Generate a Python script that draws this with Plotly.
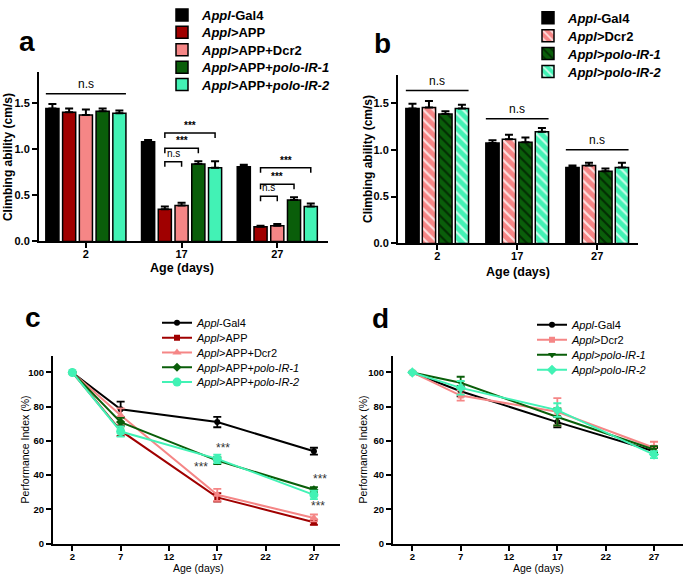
import plotly.graph_objects as go

# ---------------- data ----------------
# Panel a: climbing ability (cm/s)
a_ages = ["2", "17", "27"]
a_names = ["<i>Appl</i>-Gal4", "<i>Appl</i>&gt;APP", "<i>Appl</i>&gt;APP+Dcr2",
           "<i>Appl</i>&gt;APP+<i>polo-IR-1</i>", "<i>Appl</i>&gt;APP+<i>polo-IR-2</i>"]
a_gal4 = [1.44, 1.08, 0.81]
a_app = [1.40, 0.35, 0.16]
a_dcr2 = [1.37, 0.39, 0.17]
a_polo1 = [1.41, 0.84, 0.45]
a_polo2 = [1.39, 0.80, 0.38]
a_gal4_err = [0.05, 0.02, 0.02]
a_app_err = [0.04, 0.03, 0.01]
a_dcr2_err = [0.06, 0.03, 0.02]
a_polo1_err = [0.03, 0.03, 0.03]
a_polo2_err = [0.03, 0.07, 0.03]

# Panel b: climbing ability (cm/s)
b_ages = ["2", "17", "27"]
b_names = ["<i>Appl</i>-Gal4", "<i>Appl</i>&gt;Dcr2", "<i>Appl</i>&gt;<i>polo-IR-1</i>",
           "<i>Appl</i>&gt;<i>polo-IR-2</i>"]
b_gal4 = [1.44, 1.07, 0.81]
b_dcr2 = [1.45, 1.11, 0.83]
b_polo1 = [1.38, 1.08, 0.77]
b_polo2 = [1.44, 1.19, 0.81]
b_gal4_err = [0.05, 0.03, 0.02]
b_dcr2_err = [0.07, 0.05, 0.03]
b_polo1_err = [0.03, 0.05, 0.03]
b_polo2_err = [0.04, 0.04, 0.05]

# Panel c: performance index (%)
c_days = [2, 7, 17, 27]
c_names = a_names
c_gal4 = [100, 78.5, 71, 54]
c_app = [100, 66, 27, 12.5]
c_dcr2 = [100, 75, 28.5, 15]
c_polo1 = [100, 71, 48.5, 31.5]
c_polo2 = [100, 65.5, 49.5, 28.5]
c_gal4_err = [0, 4.5, 3, 2]
c_app_err = [0, 3, 2.5, 1.5]
c_dcr2_err = [0, 4, 3.5, 2]
c_polo1_err = [0, 2.5, 2, 1.5]
c_polo2_err = [0, 3, 2.5, 2.5]

# Panel d: performance index (%)
d_days = [2, 7, 17, 27]
d_names = b_names
d_gal4 = [100, 89, 71, 54]
d_dcr2 = [100, 86.5, 77, 56]
d_polo1 = [100, 94, 74, 55]
d_polo2 = [100, 91, 78, 52]
d_gal4_err = [0, 3, 3, 2]
d_dcr2_err = [0, 3, 8, 3.5]
d_polo1_err = [0, 3.5, 5, 2]
d_polo2_err = [0, 4, 4, 2]

x_ticks = [2, 7, 12, 17, 22, 27]
bar_y_ticks = [0, 0.5, 1.0, 1.5]
line_y_ticks = [0, 20, 40, 60, 80, 100]

# ---------------- styles ----------------
BLACK = "#000000"
DRED = "#A00000"
PINK = "#F58686"
DGREEN = "#0A5E0A"
AQUA = "#42F2B5"
FONT = "Liberation Sans, Arial, sans-serif"
NARROW = "Liberation Sans Narrow, Liberation Sans, Arial, sans-serif"

W, H = 685, 580


def px_x(p):
    return p / W


def px_y(p):
    return 1 - p / H


fig = go.Figure()
legends = {}
leg_count = [0]


def new_legend(x_page, y_page, font):
    leg_count[0] += 1
    key = "legend" if leg_count[0] == 1 else f"legend{leg_count[0]}"
    legends[key] = dict(x=px_x(x_page), y=px_y(y_page), xanchor="left", yanchor="middle",
                        font=font, itemwidth=30, bgcolor="rgba(0,0,0,0)",
                        borderwidth=0)
    return key


# ---------------- panel a bars ----------------
a_vals = [a_gal4, a_app, a_dcr2, a_polo1, a_polo2]
a_errs = [a_gal4_err, a_app_err, a_dcr2_err, a_polo1_err, a_polo2_err]
a_cols = [BLACK, DRED, PINK, DGREEN, AQUA]
pos = list(range(len(a_ages)))
A_SLOT, A_BW = 0.175, 0.137
na = len(a_vals)
leg_font_bar = dict(family=FONT, size=13, color="black", weight="bold")
for i in range(na):
    off = -na * A_SLOT / 2 + i * A_SLOT + (A_SLOT - A_BW) / 2
    lg = new_legend(162, 10 + 17.8 * i, leg_font_bar)
    fig.add_trace(go.Bar(
        x=pos, y=a_vals[i], width=A_BW, offset=off, name=a_names[i],
        marker=dict(color=a_cols[i], line=dict(color="black", width=1.5)),
        error_y=dict(type="data", symmetric=False, array=a_errs[i],
                     arrayminus=[0] * len(pos), color="black", thickness=2, width=4),
        xaxis="x", yaxis="y", legend=lg, showlegend=True))

# ---------------- panel b bars ----------------
b_vals = [b_gal4, b_dcr2, b_polo1, b_polo2]
b_errs = [b_gal4_err, b_dcr2_err, b_polo1_err, b_polo2_err]
b_cols = [BLACK, PINK, DGREEN, AQUA]
b_pat = [None, "white", "#001a00", "white"]
B_SLOT, B_BW = 0.206, 0.166
nb = len(b_vals)
for i in range(nb):
    off = -nb * B_SLOT / 2 + i * B_SLOT + (B_SLOT - B_BW) / 2
    mk = dict(color=b_cols[i], line=dict(color="black", width=1.5))
    if b_pat[i]:
        mk["pattern"] = dict(shape="\\", fgcolor=b_pat[i], fgopacity=0.75,
                             size=7, solidity=0.3)
    lg = new_legend(528, 13 + 18.3 * i, leg_font_bar)
    fig.add_trace(go.Bar(
        x=pos, y=b_vals[i], width=B_BW, offset=off, name=b_names[i], marker=mk,
        error_y=dict(type="data", symmetric=False, array=b_errs[i],
                     arrayminus=[0] * len(pos), color="black", thickness=2, width=4),
        xaxis="x2", yaxis="y2", legend=lg, showlegend=True))

# ---------------- panel c lines ----------------
leg_font_line = dict(family=FONT, size=11, color="black")
c_vals = [c_gal4, c_app, c_dcr2, c_polo1, c_polo2]
c_errs = [c_gal4_err, c_app_err, c_dcr2_err, c_polo1_err, c_polo2_err]
c_cols = [BLACK, DRED, PINK, DGREEN, AQUA]
c_sym = ["circle", "square", "triangle-up", "diamond", "circle"]
c_size = [6, 6, 8, 7, 9]
for i in range(len(c_vals)):
    lg = new_legend(157, 324 + 15.1 * i, leg_font_line)
    fig.add_trace(go.Scatter(
        x=c_days, y=c_vals[i], mode="lines+markers", name=c_names[i],
        line=dict(color=c_cols[i], width=2),
        marker=dict(symbol=c_sym[i], size=c_size[i], color=c_cols[i]),
        error_y=dict(type="data", array=c_errs[i], color=c_cols[i], thickness=1.8, width=4),
        xaxis="x3", yaxis="y3", legend=lg))

# ---------------- panel d lines ----------------
d_vals = [d_gal4, d_dcr2, d_polo1, d_polo2]
d_errs = [d_gal4_err, d_dcr2_err, d_polo1_err, d_polo2_err]
d_cols = [BLACK, PINK, DGREEN, AQUA]
d_sym = ["circle", "square", "triangle-down", "diamond"]
d_size = [6, 6, 7, 8]
for i in range(len(d_vals)):
    lg = new_legend(532, 326 + 15.3 * i, leg_font_line)
    fig.add_trace(go.Scatter(
        x=d_days, y=d_vals[i], mode="lines+markers", name=d_names[i],
        line=dict(color=d_cols[i], width=2),
        marker=dict(symbol=d_sym[i], size=d_size[i], color=d_cols[i]),
        error_y=dict(type="data", array=d_errs[i], color=d_cols[i], thickness=1.8, width=4),
        xaxis="x4", yaxis="y4", legend=lg))

# ---------------- significance marks ----------------
shapes = []
annots = []


def bar_center(g, i, n, slot):
    return g - n * slot / 2 + (i + 0.5) * slot


# a: n.s line over day 2
ns_a = [(0, 1.60)]
for g, yv in ns_a:
    x0 = bar_center(g, 0, na, A_SLOT) - A_BW / 2
    x1 = bar_center(g, na - 1, na, A_SLOT) + A_BW / 2
    shapes.append(dict(type="line", xref="x", yref="y", x0=x0, x1=x1, y0=yv, y1=yv,
                       line=dict(color="black", width=1.5)))
    annots.append(dict(x=g, y=yv, xref="x", yref="y", text="n.s", showarrow=False,
                       yanchor="bottom", yshift=1,
                       font=dict(family=NARROW, size=12, color="black")))

# a: brackets (group, from trace, to trace, level, label)
brackets_a = [(1, 1, 4, 1.175, "***"), (1, 1, 3, 1.01, "***"), (1, 1, 2, 0.865, "n.s"),
              (2, 1, 4, 0.80, "***"), (2, 1, 3, 0.62, "***"), (2, 1, 2, 0.49, "n.s")]
for g, t0, t1, yv, lab in brackets_a:
    x0 = bar_center(g, t0, na, A_SLOT)
    x1 = bar_center(g, t1, na, A_SLOT)
    leg = 0.055
    shapes.append(dict(type="path", xref="x", yref="y",
                       path=f"M {x0},{yv - leg} L {x0},{yv} L {x1},{yv} L {x1},{yv - leg}",
                       line=dict(color="black", width=1.5)))
    star = lab == "***"
    annots.append(dict(x=(x0 + x1) / 2, y=yv, xref="x", yref="y", text=lab, showarrow=False,
                       yanchor="bottom", yshift=0 if star else 1,
                       font=dict(family=FONT if star else NARROW, size=10, color="black",
                                 weight="bold" if star else "normal")))

# b: n.s lines
ns_b = [(0, 1.63), (1, 1.33), (2, 1.00)]
for g, yv in ns_b:
    x0 = bar_center(g, 0, nb, B_SLOT) - B_BW / 2
    x1 = bar_center(g, nb - 1, nb, B_SLOT) + B_BW / 2
    shapes.append(dict(type="line", xref="x2", yref="y2", x0=x0, x1=x1, y0=yv, y1=yv,
                       line=dict(color="black", width=1.5)))
    annots.append(dict(x=g, y=yv, xref="x2", yref="y2", text="n.s", showarrow=False,
                       yanchor="bottom", yshift=1,
                       font=dict(family=NARROW, size=12, color="black")))

# c: *** marks
c_stars = [(17.6, 56), (15.3, 44.5), (27.6, 38), (27.4, 22)]
for xv, yv in c_stars:
    annots.append(dict(x=xv, y=yv, xref="x3", yref="y3", text="***", showarrow=False,
                       font=dict(family=FONT, size=12, color="#333333")))

# ---------------- axes ----------------
tickfont_bar = dict(family=FONT, size=11, color="black", weight="bold")
tickfont_line = dict(family=FONT, size=9.5, color="black", weight="bold")
axis_common = dict(showline=True, linecolor="black", linewidth=2, ticks="outside",
                   ticklen=5, tickwidth=2, tickcolor="black", showgrid=False,
                   zeroline=False, fixedrange=True)

layout = dict(
    width=W, height=H, margin=dict(l=0, r=0, t=0, b=0),
    paper_bgcolor="white", plot_bgcolor="white", barmode="overlay", showlegend=True,
    xaxis=dict(axis_common, domain=[px_x(39), px_x(328)], range=[-0.49, 2.53],
               tickvals=pos, ticktext=a_ages, tickfont=tickfont_bar, anchor="y",
               ticklabelstandoff=-4),
    yaxis=dict(axis_common, domain=[px_y(241), px_y(68)], range=[0, 1.84],
               tickvals=bar_y_ticks, tickformat=".1f", tickfont=tickfont_bar, anchor="x"),
    xaxis2=dict(axis_common, domain=[px_x(398), px_x(638)], range=[-0.49, 2.51],
                tickvals=pos, ticktext=b_ages, tickfont=tickfont_bar, anchor="y2",
                ticklabelstandoff=-4),
    yaxis2=dict(axis_common, domain=[px_y(243), px_y(71)], range=[0, 1.80],
                tickvals=bar_y_ticks, tickformat=".1f", tickfont=tickfont_bar, anchor="x2"),
    xaxis3=dict(axis_common, domain=[px_x(53), px_x(340)], range=[0, 29.7],
                tickvals=x_ticks, tickfont=tickfont_line, anchor="y3",
                ticklabelstandoff=-2),
    yaxis3=dict(axis_common, domain=[px_y(549), px_y(358)], range=[0, 109.5],
                tickvals=line_y_ticks, tickfont=tickfont_line, anchor="x3"),
    xaxis4=dict(axis_common, domain=[px_x(393), px_x(683)], range=[0, 30],
                tickvals=x_ticks, tickfont=tickfont_line, anchor="y4",
                ticklabelstandoff=-2),
    yaxis4=dict(axis_common, domain=[px_y(549), px_y(358)], range=[0, 109.5],
                tickvals=line_y_ticks, tickfont=tickfont_line, anchor="x4"),
    shapes=shapes,
)
layout.update(legends)

# axis titles and panel letters (page pixel positions)
titles = [
    ("Climbing ability (cm/s)", 8, 155, -90, 12, "bold"),
    ("Age (days)", 182, 268, 0, 12.5, "bold"),
    ("Climbing ability (cm/s)", 368, 157, -90, 12, "bold"),
    ("Age (days)", 518, 272, 0, 12.5, "bold"),
    ("Performance Index (%)", 25, 453, -90, 10.5, "normal"),
    ("Age (days)", 198, 574, 0, 10.5, "normal"),
    ("Performance Index (%)", 363, 453, -90, 10.5, "normal"),
    ("Age (days)", 538, 574, 0, 10.5, "normal"),
]
for txt, xp, yp, ang, sz, wt in titles:
    annots.append(dict(x=px_x(xp), y=px_y(yp), xref="paper", yref="paper", text=txt,
                       showarrow=False, textangle=ang, xanchor="center", yanchor="middle",
                       font=dict(family=FONT, size=sz, color="black", weight=wt)))

letters = [("a", 27, 37), ("b", 382, 39), ("c", 33, 319), ("d", 380, 320)]
for t, xp, yp in letters:
    annots.append(dict(x=px_x(xp), y=px_y(yp), xref="paper", yref="paper", text=t,
                       showarrow=False, xanchor="center", yanchor="middle",
                       font=dict(family=FONT, size=28, color="black", weight="bold")))

layout["annotations"] = annots
fig.update_layout(**layout)
# remove the default 8px page margin so the figure sits at the window's corner
fig.write_html("out.html", config={"displayModeBar": False},
               post_script="document.body.style.margin='0px';document.body.style.overflow='hidden';")
